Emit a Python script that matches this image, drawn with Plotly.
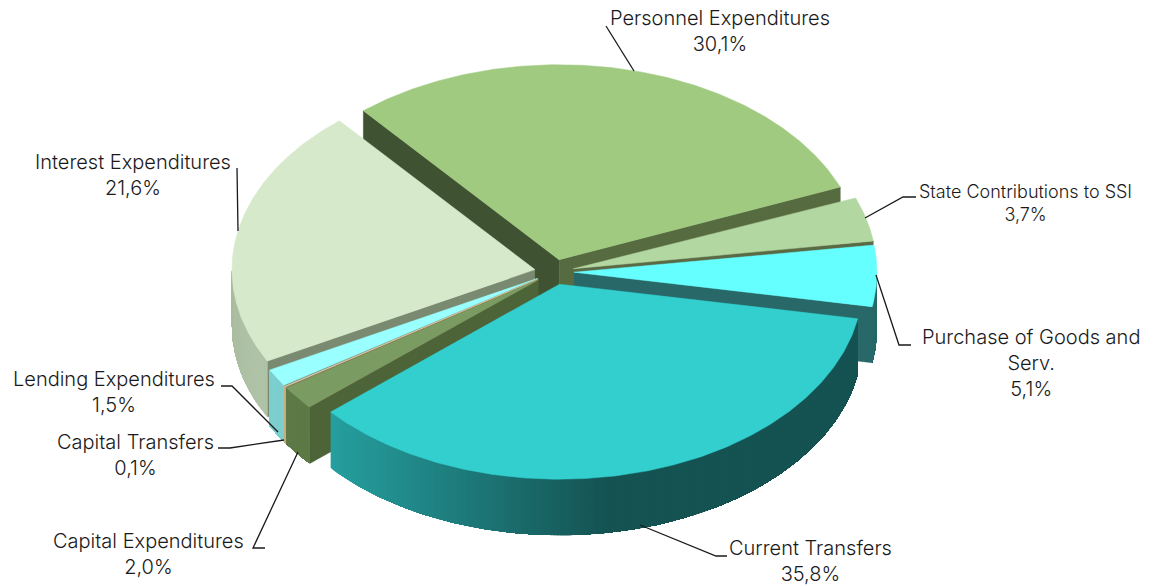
import numpy as np
import plotly.graph_objects as go

# Data
categories = ["State Contributions to SSI", "Purchase of Goods and<br>Serv.", "Current Transfers",
              "Capital Expenditures", "Capital Transfers", "Lending Expenditures",
              "Interest Expenditures", "Personnel Expenditures"]
shares = [3.7, 5.1, 35.8, 2.0, 0.1, 1.5, 21.6, 30.1]
share_labels = ["3,7%", "5,1%", "35,8%", "2,0%", "0,1%", "1,5%", "21,6%", "30,1%"]

# Style
top_colors = ["#b3d7a0", "#66ffff", "#33cfcf", "#7a9c62", "#eecf9b", "#99ffff", "#d6e9ca", "#a0ca80"]
start_wall = ["#b3d7a0", "#286868", "#33cccc", "#4d6338", "#8a7a5a", "#5f8f8f", "#7a8a70", "#3f5232"]
end_wall = ["#5a6a45", "#286868", "#33cccc", "#4d6338", "#8a7a5a", "#5f8f8f", "#7a8a70", "#566b40"]
outer_from = {1: (42, 106, 106), 2: (38, 160, 160), 3: (95, 123, 72), 4: (200, 175, 130), 5: (127, 207, 207), 6: (176, 196, 168)}
outer_to = {1: (42, 106, 106), 2: (21, 82, 82), 3: (95, 123, 72), 4: (200, 175, 130), 5: (127, 207, 207), 6: (170, 188, 160)}
draw_order = [7, 0, 1, 6, 5, 4, 3, 2]
label_sizes = [18, 20, 20, 20, 20, 20, 20, 20]

W, H = 1173, 586
CX, CY, RX, RY, DEPTH, EXPLODE, START = 554.3, 272.0, 303.0, 195.0, 56.0 / 195.0, 0.065, 68.5

fig = go.Figure()


def poly(x, y, color, width=0.5):
    fig.add_trace(go.Scatter(x=x, y=y, mode="lines", fill="toself", fillcolor=color,
                             line=dict(color=color, width=width), hoverinfo="skip", showlegend=False))


bounds = START + np.concatenate([[0], np.cumsum(shares)]) * 3.6

for i in draw_order:
    a0, a1 = bounds[i], bounds[i + 1]
    mid = np.radians((a0 + a1) / 2)
    ox, oy = EXPLODE * np.sin(mid), EXPLODE * np.cos(mid)
    t = np.radians(np.linspace(a0, a1, 200))
    ex, ey = ox + np.sin(t), oy + np.cos(t)
    # radial walls
    if np.sin(t[0]) < 0:
        poly([ox, ex[0], ex[0], ox], [oy, ey[0], ey[0] - DEPTH, oy - DEPTH], start_wall[i])
    if np.sin(t[-1]) > 0:
        poly([ox, ex[-1], ex[-1], ox], [oy, ey[-1], ey[-1] - DEPTH, oy - DEPTH], end_wall[i])
    # outer wall, shaded band by band; each band runs to the arc's far end and the next paints over it
    vis = np.where(np.cos(t) < 0)[0]
    if len(vis) > 1:
        c0, c1 = np.array(outer_from[i]), np.array(outer_to[i])
        if i == 2:  # right-hand (clockwise start) side is darkest
            vis = vis[::-1]
        for a in vis[:-1]:
            f = min(1.0, max(0.0, (ex[a] + 0.75) / 0.93)) if i == 2 else (a - vis[0]) / len(vis)
            col = c0 + (c1 - c0) * f
            k = np.where(vis == a)[0][0]
            s = vis[k:]
            poly(np.r_[ex[s], ex[s][::-1]], np.r_[ey[s], ey[s][::-1] - DEPTH],
                 "rgb(%d,%d,%d)" % tuple(col), width=0)
    # top face
    poly(np.r_[ox, ex, ox], np.r_[oy, ey, oy], top_colors[i])

X = lambda px: (px - CX) / RX
Y = lambda py: (CY - py) / RY

leaders = [
    [(916, 197), (903, 197), (865, 218)],
    [(911, 345), (899, 345), (876, 275)],
    [(727, 556), (716, 556), (640, 525)],
    [(265, 548), (253, 548), (298, 452)],
    [(218, 448), (230, 448), (284, 440)],
    [(221, 386), (232, 386), (278, 432)],
    [(237, 168), (238, 231)],
    [(606, 26), (634, 71)],
]
for pts in leaders:
    fig.add_trace(go.Scatter(x=[X(p[0]) for p in pts], y=[Y(p[1]) for p in pts], mode="lines",
                             line=dict(color="#1a1a1a", width=1.3), hoverinfo="skip", showlegend=False))

label_pos = [(1025, 203), (1031, 363), (810, 561), (148, 554), (135, 455), (114, 392), (133, 175), (720, 31)]
for name, pct, (lx, ly), size in zip(categories, share_labels, label_pos, label_sizes):
    fig.add_annotation(x=X(lx), y=Y(ly), text=f"{name}<br>{pct}", showarrow=False,
                       xanchor="center", yanchor="middle", align="center",
                       font=dict(family="Inter", size=size, color="#1a1a1a", weight=300))

fig.update_layout(
    width=W, height=H, margin=dict(l=0, r=0, t=0, b=0), paper_bgcolor="white", plot_bgcolor="white",
    xaxis=dict(range=[X(0), X(W)], visible=False, fixedrange=True),
    yaxis=dict(range=[Y(H), Y(0)], visible=False, fixedrange=True),
    showlegend=False,
)
fig.write_html("out.html", config={"displayModeBar": False},
               post_script="document.body.style.margin='0';document.body.style.overflow='hidden';")
